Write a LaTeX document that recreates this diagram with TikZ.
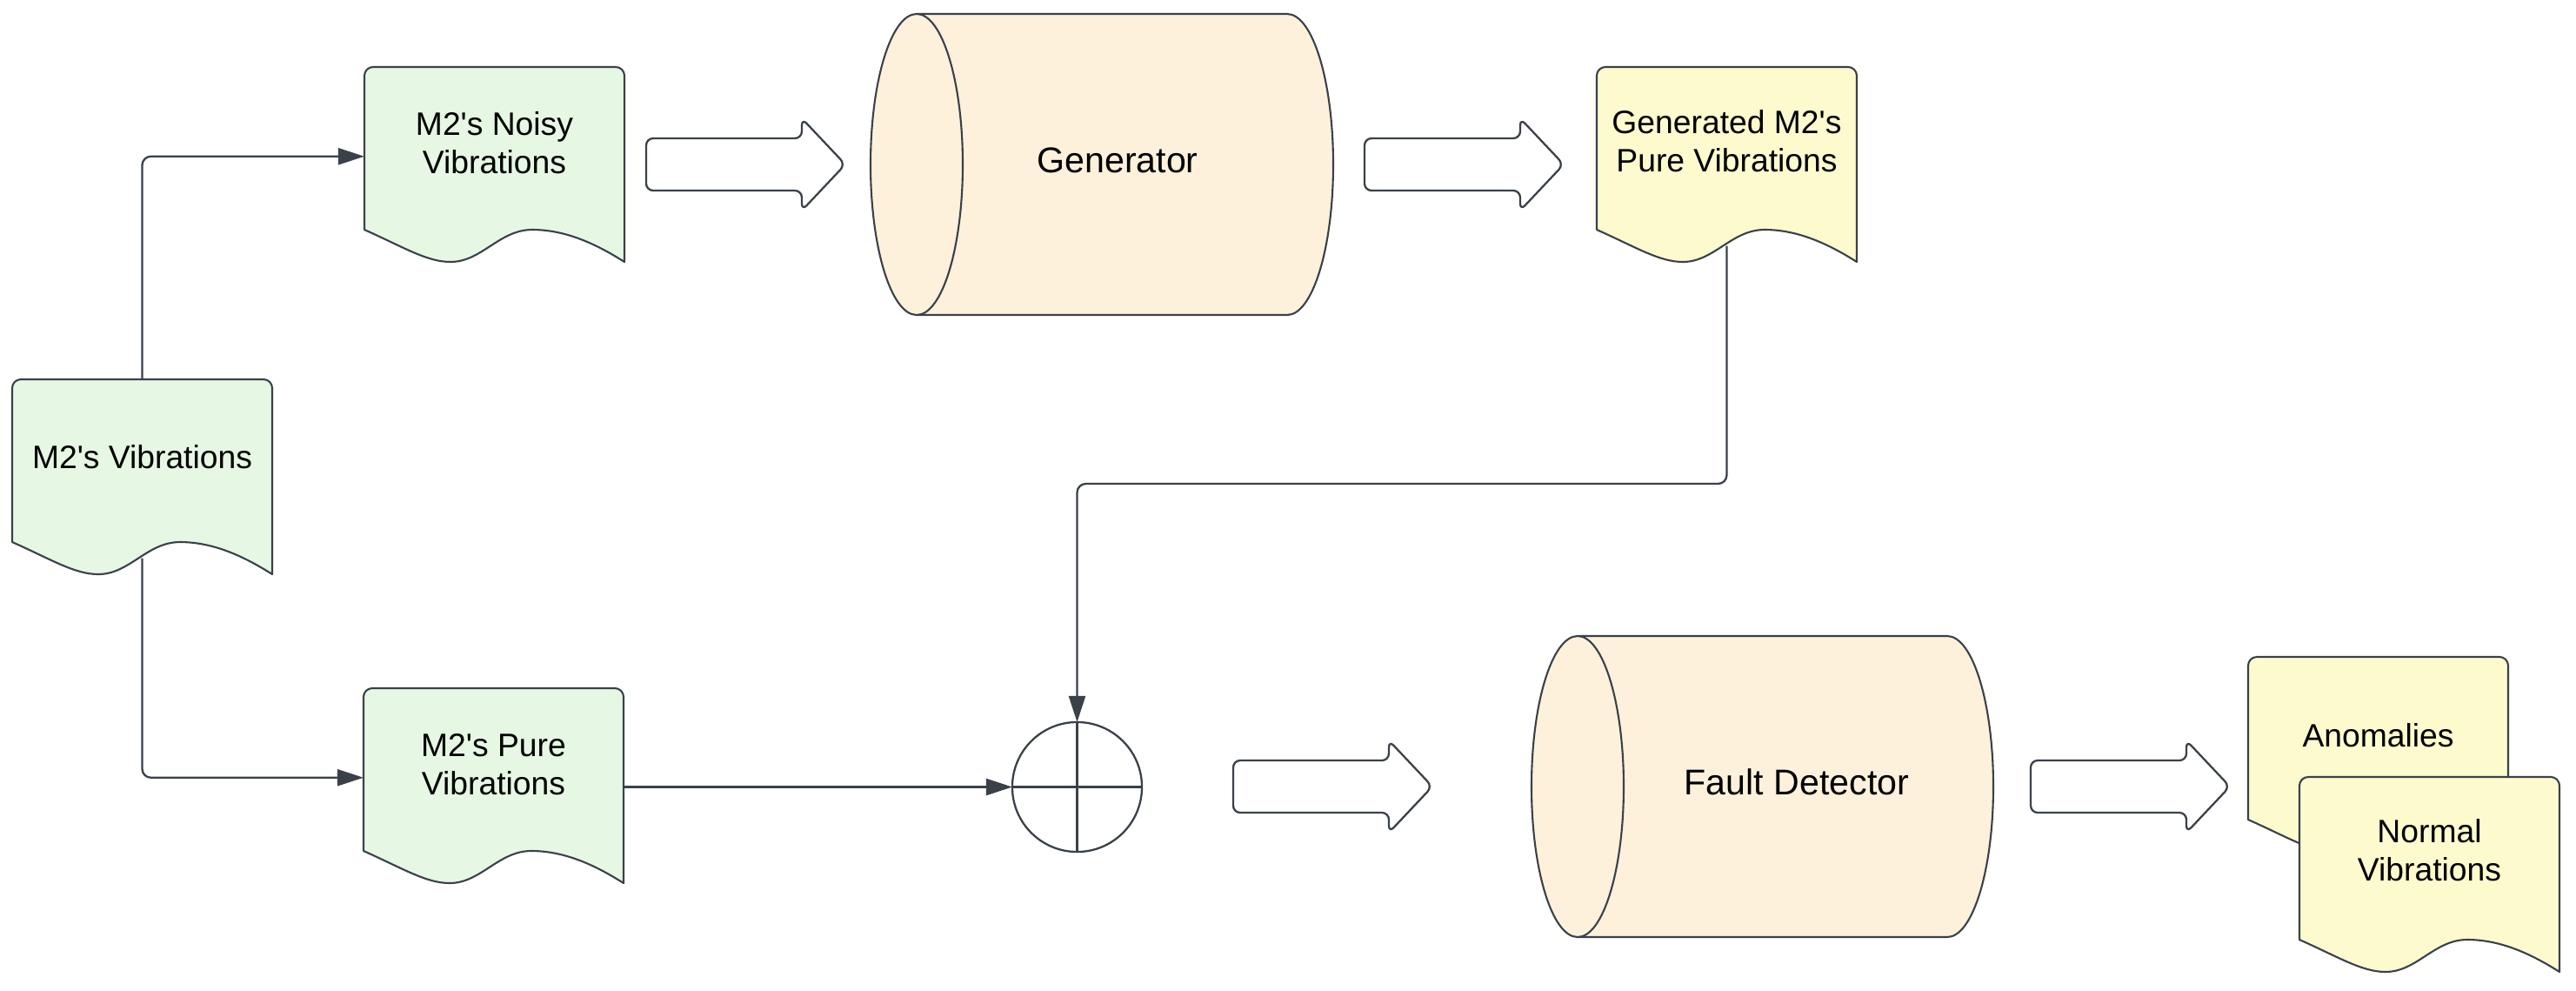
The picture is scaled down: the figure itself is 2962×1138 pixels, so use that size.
\documentclass[tikz,border=0pt]{standalone}
\usepackage{fontspec}
\setmainfont{Liberation Sans}
\usetikzlibrary{arrows.meta,calc}
\definecolor{ln}{HTML}{3A414A}
\definecolor{gfill}{HTML}{E6F7E3}
\definecolor{yfill}{HTML}{FDFBCE}
\definecolor{cfill}{HTML}{FDF1DB}
\newcommand{\ap}{\textquotesingle}
\tikzset{
  outline/.style={draw=ln, line width=0.6pt, line join=round},
  docnode/.style={minimum width=2.99cm, minimum height=2.055cm, inner sep=0pt, outer sep=0pt},
  doctext/.style={font=\fontsize{10.6}{12.6}\selectfont, align=center, inner sep=0pt},
  cyltext/.style={font=\fontsize{11.7}{13.5}\selectfont, inner sep=0pt},
  cylnode/.style={minimum width=4.26cm, minimum height=3.46cm, inner sep=0pt, outer sep=0pt},
  conn/.style={draw=ln, line width=0.65pt, rounded corners=0.1cm, -{Triangle[length=0.3cm,width=0.19cm]}},
  blockarrow/.style={draw=ln, line width=0.65pt, fill=white, line join=round},
  crossline/.style={draw=ln, line width=0.65pt},
}
% document shape: #1 left, #2 top, #3 fill colour
\newcommand{\docshape}[3]{%
  \path[outline, fill=#3] (#1,#2+100) [rounded corners=0.1cm] -- (#1,#2) -- (#1+299,#2) -- (#1+299,#2+100) [sharp corners] -- (#1+299,#2+224)
    .. controls (#1+269,#2+205) and (#1+233,#2+187) .. (#1+193,#2+187)
    .. controls (#1+155,#2+187) and (#1+135,#2+224) .. (#1+99,#2+224)
    .. controls (#1+72,#2+224) and (#1+45,#2+207) .. (#1,#2+187) -- cycle;}
% cylinder: #1 left cap centre x, #2 right cap centre x, #3 centre y
\newcommand{\cylshape}[3]{%
  \path[outline, fill=cfill] (#1,#3-173) -- (#2,#3-173)
    .. controls (#2+29.3,#3-173) and (#2+53,#3-95.5) .. (#2+53,#3)
    .. controls (#2+53,#3+95.5) and (#2+29.3,#3+173) .. (#2,#3+173) -- (#1,#3+173) -- cycle;
  \path[outline, fill=cfill] (#1,#3) ellipse [x radius=53, y radius=173];}
% block arrow: #1 left x, #2 centre y
\newcommand{\blockarrow}[2]{%
  \path[blockarrow] (#1,#2) [rounded corners=0.08cm] -- (#1,#2-30) -- (#1+179,#2-30) -- (#1+179,#2-53) -- (#1+229,#2) -- (#1+179,#2+53) -- (#1+179,#2+30) -- (#1,#2+30) -- cycle;}

\begin{document}
\begin{tikzpicture}[x=0.01cm,y=-0.01cm]
\fill[white] (0,0) rectangle (2962,1138);
\useasboundingbox (0,0) rectangle (2962,1138);

% shapes
\docshape{14}{436}{gfill}
\docshape{419}{77}{gfill}
\docshape{418}{791}{gfill}
\docshape{1836}{77}{yfill}
\docshape{2585}{755}{yfill}
\docshape{2644}{893}{yfill}
\cylshape{1054}{1480}{189}
\cylshape{1814}{2239}{904}

\blockarrow{743}{189}
\blockarrow{1569}{189}
\blockarrow{1418}{904}
\blockarrow{2335}{904}

% nodes
\node[docnode] (vib) at (163.5,538.75) {};
\node[docnode] (noisy) at (568.5,179.75) {};
\node[docnode] (pure) at (567.5,893.75) {};
\node[docnode] (gdoc) at (1985.5,179.75) {};
\node[docnode] (anom) at (2734.5,857.75) {};
\node[docnode] (normal) at (2793.5,995.75) {};
\node[cylnode] (gen) at (1267,189) {};
\node[cylnode] (fault) at (2026.5,904) {};

\node[doctext] (vibt) at (163.5,525) {M2\ap s Vibrations};
\node[doctext] (noisyt) at (568.5,164) {M2\ap s Noisy\\Vibrations};
\node[doctext] (puret) at (567.5,878.5) {M2\ap s Pure\\Vibrations};
\node[doctext] (gdoct) at (1985.5,162.5) {Generated M2\ap s\\Pure Vibrations};
\node[doctext] (anomt) at (2734.5,845) {Anomalies};
\node[doctext] (normalt) at (2793.5,977) {Normal\\Vibrations};
\node[cyltext] (gent) at (1285,184) {Generator};
\node[cyltext] (faultt) at (2066,899) {Fault Detector};

% summing junction
\node[circle, draw=ln, line width=0.65pt, minimum size=1.49cm, inner sep=0pt, outer sep=0pt] (sum) at (1238.5,904.5) {};
\draw[crossline] (sum.north) -- (sum.south);
\draw[crossline] (sum.west) -- (sum.east);

% connectors
\coordinate (elbow) at (1985.5,556);
\draw[conn] (vib.north) |- (noisy.west);
\draw[conn] (vib.south) |- (pure.west);
\draw[conn] (pure.east |- sum.west) -- (sum.west);
\draw[conn] (gdoc.south) -- (elbow) -| (sum.north);
\end{tikzpicture}
\end{document}
